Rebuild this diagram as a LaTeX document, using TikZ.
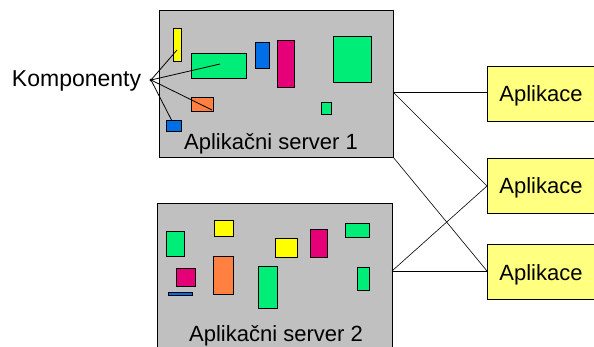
\documentclass[tikz,border=0pt]{standalone}
\usepackage{fontspec}
\setmainfont{Liberation Sans}
\begin{document}
\begin{tikzpicture}[x=1pt,y=-1pt,
  every node/.style={inner sep=0pt,outer sep=0pt},
  server/.style={draw=black,line width=0.8pt,fill=srvgray},
  comp/.style={draw=black,line width=1pt},
  appbox/.style={draw=black,line width=1pt,fill=appyellow},
  link/.style={draw=black,line width=0.6pt},
  lbl/.style={font=\fontsize{22}{25}\selectfont,anchor=base}
]
\definecolor{srvgray}{RGB}{192,192,192}
\definecolor{cgreen}{RGB}{0,238,120}
\definecolor{cblue}{RGB}{0,110,230}
\definecolor{cpink}{RGB}{230,0,120}
\definecolor{cyellow}{RGB}{255,255,0}
\definecolor{corange}{RGB}{255,128,64}
\definecolor{appyellow}{RGB}{255,255,128}

\useasboundingbox (0,0) rectangle (594,347);
\clip (0,0) rectangle (594,347);
\fill[white] (0,0) rectangle (594,347);

% application servers
\draw[server] (159,10) rectangle (393,157);
\draw[server] (157,203) rectangle (392,360);

% components in server 1
\node[comp,fill=cyellow,minimum width=8pt,minimum height=33pt] (c1) at (177,45.5) {};
\node[comp,fill=cgreen,minimum width=55pt,minimum height=25pt] (c2) at (218.5,66.5) {};
\node[comp,fill=cblue,minimum width=14pt,minimum height=26pt] (c3) at (262,56) {};
\node[comp,fill=cpink,minimum width=17pt,minimum height=47pt] (c4) at (285.5,64.5) {};
\node[comp,fill=cgreen,minimum width=38pt,minimum height=46pt] (c5) at (352,60) {};
\node[comp,fill=cgreen,minimum width=10pt,minimum height=12pt] (c6) at (326,109) {};
\node[comp,fill=corange,minimum width=22pt,minimum height=14pt] (c7) at (202,105) {};
\node[comp,fill=cblue,minimum width=15pt,minimum height=11pt] (c8) at (173.5,126.5) {};
\node[lbl] (srv1) at (271,150) {Aplikačni server 1};

% components in server 2
\node[comp,fill=cgreen,minimum width=18pt,minimum height=25pt] (d1) at (175,244.5) {};
\node[comp,fill=cyellow,minimum width=19pt,minimum height=16pt] (d2) at (223.5,229) {};
\node[comp,fill=cpink,minimum width=19pt,minimum height=17pt] (d3) at (185.5,277.5) {};
\node[comp,fill=cblue,minimum width=24pt,minimum height=3pt,line width=0.8pt] (d4) at (180,294) {};
\node[comp,fill=corange,minimum width=20pt,minimum height=37pt] (d5) at (223,275.5) {};
\node[comp,fill=cgreen,minimum width=19pt,minimum height=41pt] (d6) at (267.5,287.5) {};
\node[comp,fill=cyellow,minimum width=22pt,minimum height=19pt] (d7) at (286,248.5) {};
\node[comp,fill=cpink,minimum width=17pt,minimum height=28pt] (d8) at (318.5,244) {};
\node[comp,fill=cgreen,minimum width=24pt,minimum height=14pt] (d9) at (357,231) {};
\node[comp,fill=cgreen,minimum width=12pt,minimum height=22pt] (d10) at (363,279) {};
\node[lbl] (srv2) at (276,341) {Aplikačni server 2};

% label pointing at components
\node[lbl,anchor=base west,font=\fontsize{23}{26}\selectfont] (komp) at (12,87) {Komponenty};
\coordinate (hub) at (151,80);
\fill (hub) circle (1.6pt);
\coordinate (t1) at (177,50);
\coordinate (t2) at (220,64);
\coordinate (t3) at (212,110);
\coordinate (t4) at (172,121);
\foreach \t in {t1,t2,t3,t4} \draw[link,line width=0.8pt] (hub) -- (\t);

% applications
\draw[appbox] (487,67) rectangle (600,122);
\node[lbl] (a1) at (541,102) {Aplikace};
\draw[appbox] (487,159) rectangle (600,214);
\node[lbl] (a2) at (541,194) {Aplikace};
\draw[appbox] (487,245) rectangle (600,299);
\node[lbl] (a3) at (541,280) {Aplikace};

\coordinate (a1w) at (487,92);
\coordinate (a2w) at (487,186);
\coordinate (a3w) at (487,271);
\coordinate (s1a) at (393,92);
\coordinate (s1b) at (393,157);
\coordinate (s2a) at (392,271);

% connections between servers and applications
\draw[link] (s1a) -- (a1w);
\draw[link] (s1a) -- (a2w);
\draw[link] (s1b) -- (a3w);
\draw[link] (s2a) -- (a3w);
\draw[link] (s2a) -- (a2w);
\end{tikzpicture}
\end{document}
